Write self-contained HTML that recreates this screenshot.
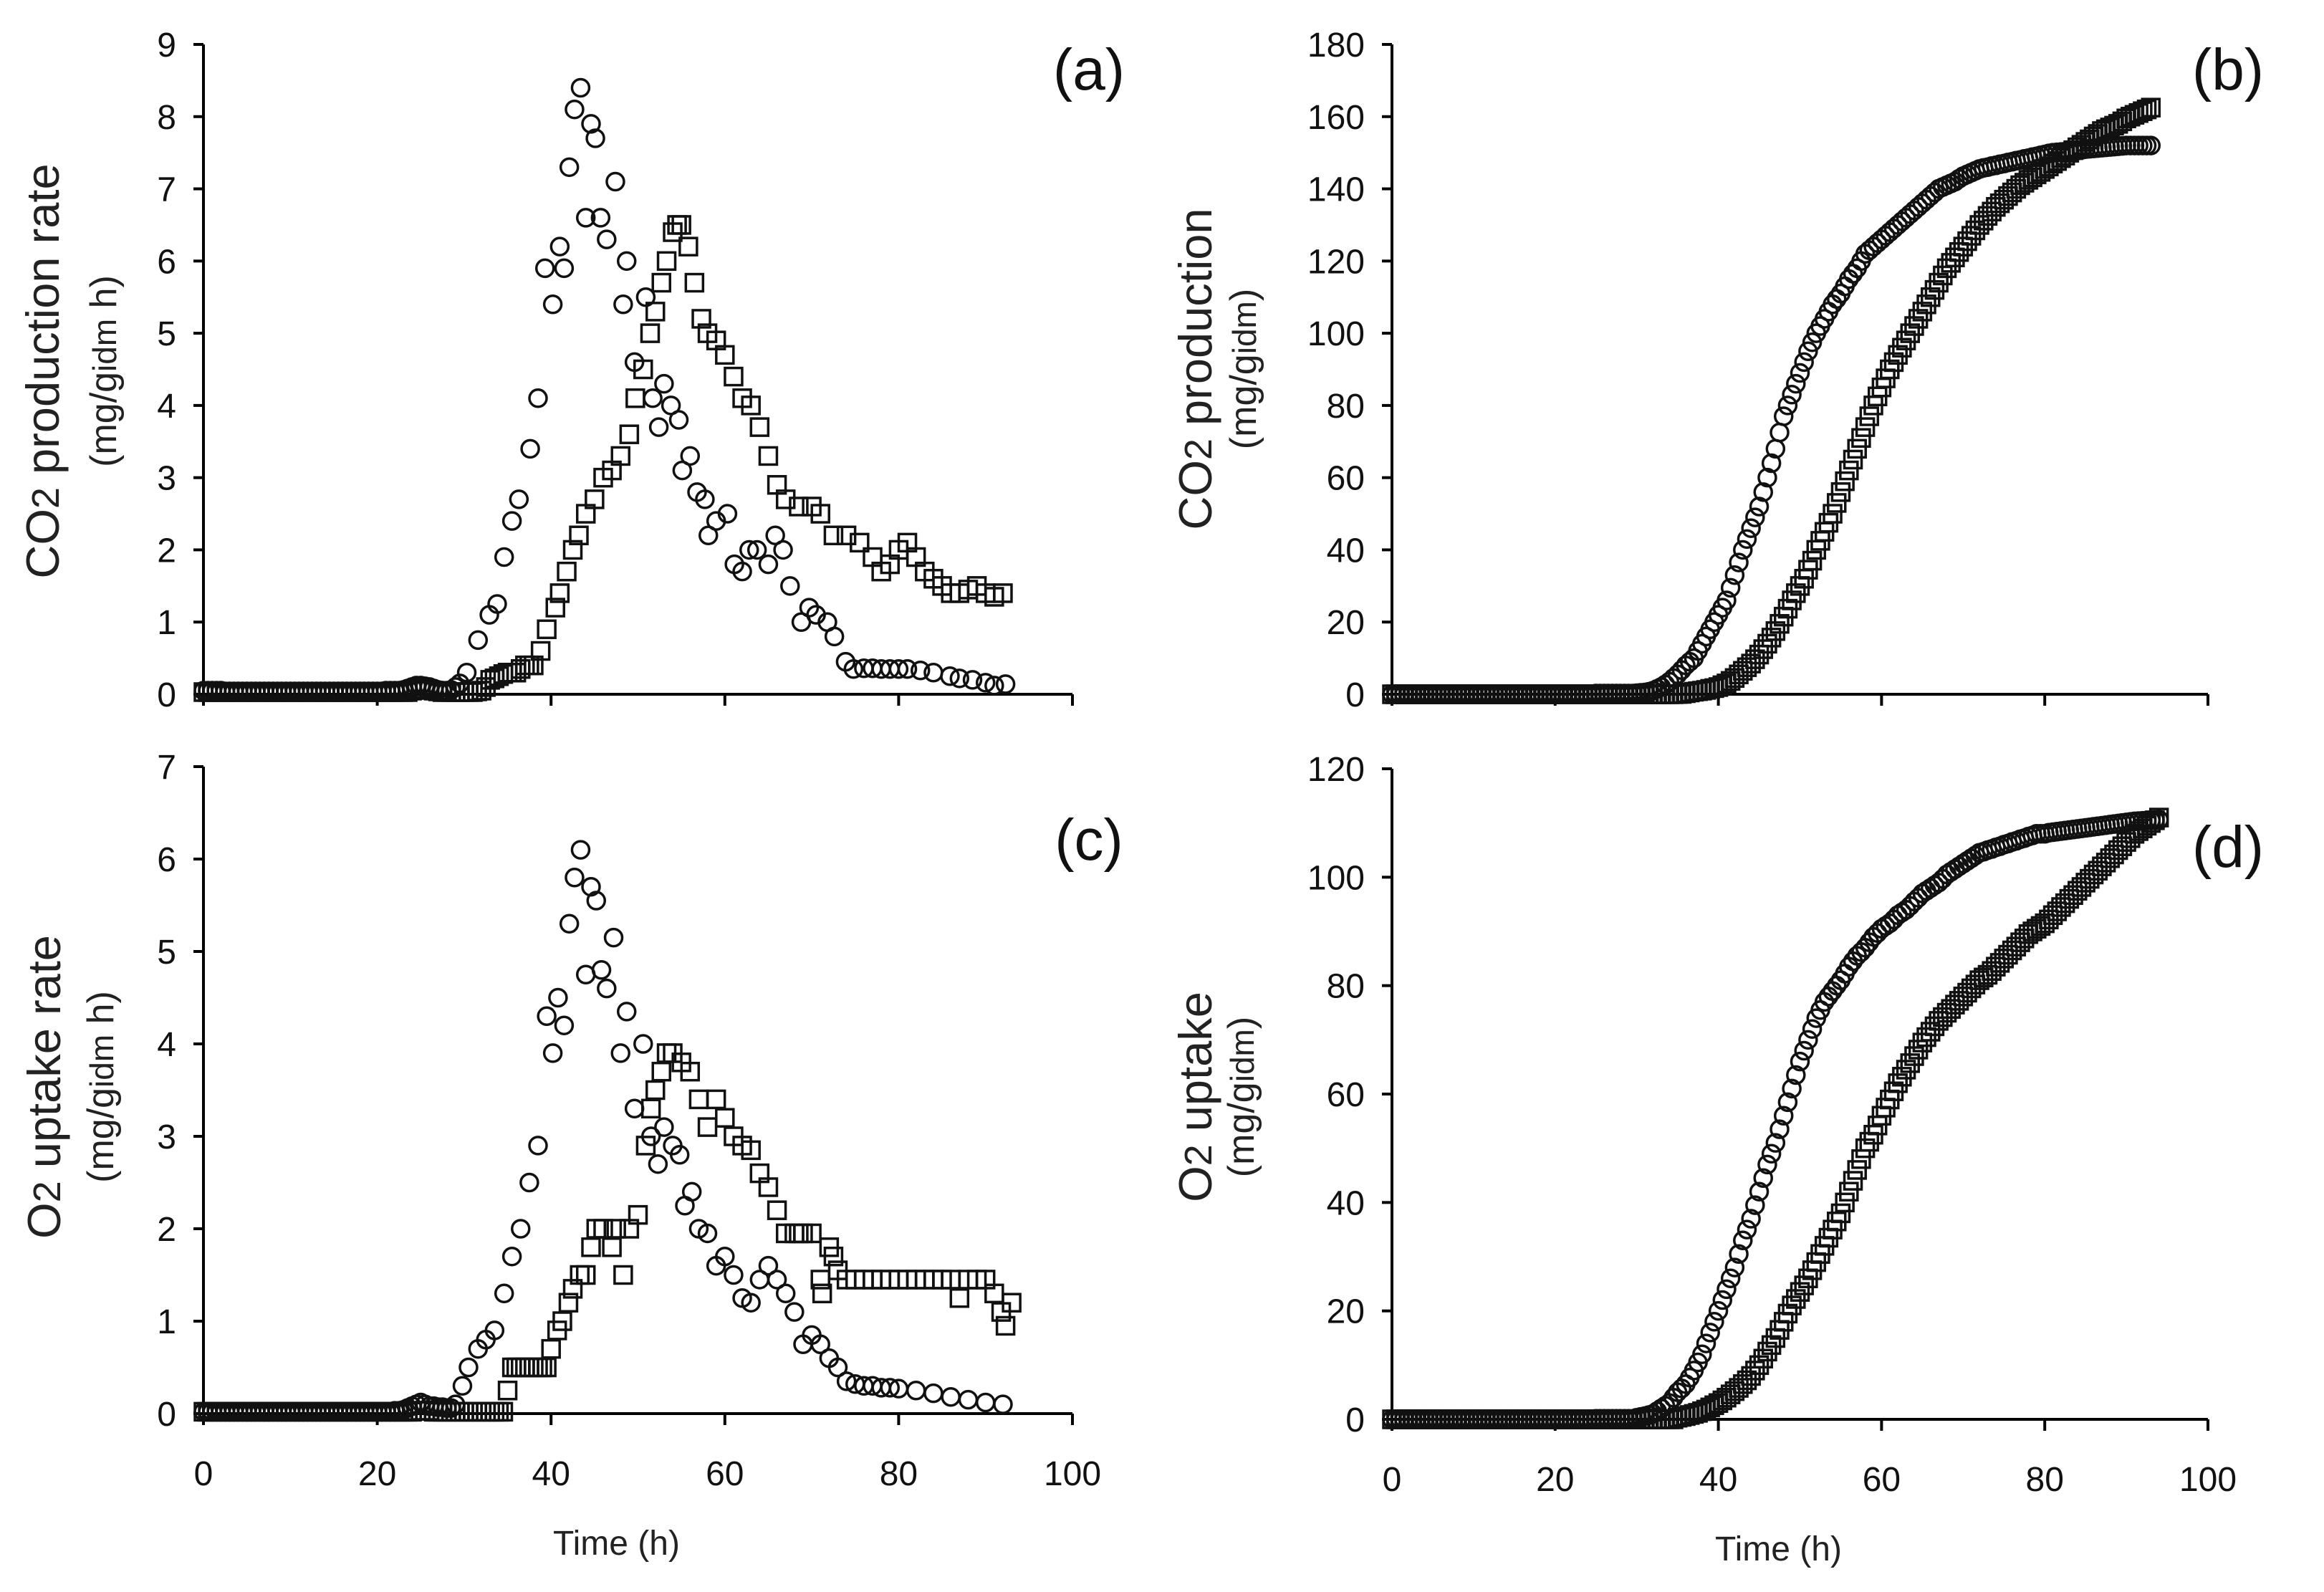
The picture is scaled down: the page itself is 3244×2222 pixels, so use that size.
<!DOCTYPE html>
<html><head><meta charset="utf-8"><style>
html,body{margin:0;padding:0;background:#fff;}
svg{display:block;font-family:"Liberation Sans",sans-serif;}
</style></head><body>
<svg id="fig" width="3244" height="2222" viewBox="0 0 3244 2222" xmlns="http://www.w3.org/2000/svg"></svg>
<script>
// ---- Panel (a): CO2 production rate ----
const aCircT=[0,0.5,1,1.5,2,2.5,3,3.5,4,4.5,5,5.5,6,6.5,7,7.5,8,8.5,9,9.5,10,10.5,11,11.5,12,12.5,13,13.5,14,14.5,15,15.5,16,16.5,17,17.5,18,18.5,19,19.5,20,20.5,21,21.5,22,22.5,23,23.5,24,24.5,25,25.5,26,26.5,27,27.5,28,28.5,29,29.5,30.3,31.6,32.9,33.8,34.6,35.5,36.3,37.6,38.5,39.3,40.2,41,41.5,42.1,42.7,43.4,44,44.6,45.1,45.7,46.4,47.4,48.3,48.7,49.6,50.9,51.7,52.4,53,53.8,54.7,55.1,56,56.8,57.7,58.1,59,60.3,61.1,62,62.8,63.7,65,65.8,66.7,67.5,68.8,69.7,70.5,71.8,72.6,73.9,74.8,76,77,78,79,80,81,82.5,84,85.9,87,88.5,90,91,92.3];
const aCircV=[0.05,0.05,0.05,0.05,0.05,0.04,0.04,0.04,0.04,0.04,0.04,0.04,0.04,0.04,0.04,0.04,0.04,0.04,0.04,0.04,0.04,0.04,0.04,0.04,0.04,0.04,0.04,0.04,0.04,0.04,0.04,0.04,0.04,0.04,0.04,0.04,0.04,0.04,0.04,0.04,0.04,0.04,0.05,0.05,0.05,0.05,0.06,0.08,0.1,0.12,0.12,0.11,0.1,0.08,0.06,0.05,0.05,0.06,0.1,0.15,0.3,0.75,1.1,1.25,1.9,2.4,2.7,3.4,4.1,5.9,5.4,6.2,5.9,7.3,8.1,8.4,6.6,7.9,7.7,6.6,6.3,7.1,5.4,6.0,4.6,5.5,4.1,3.7,4.3,4.0,3.8,3.1,3.3,2.8,2.7,2.2,2.4,2.5,1.8,1.7,2.0,2.0,1.8,2.2,2.0,1.5,1.0,1.2,1.1,1.0,0.8,0.45,0.35,0.36,0.36,0.35,0.35,0.35,0.35,0.33,0.3,0.25,0.22,0.2,0.16,0.12,0.14];
const aSqT=[0,0.5,1,1.5,2,2.5,3,3.5,4,4.5,5,5.5,6,6.5,7,7.5,8,8.5,9,9.5,10,10.5,11,11.5,12,12.5,13,13.5,14,14.5,15,15.5,16,16.5,17,17.5,18,18.5,19,19.5,20,20.5,21,21.5,22,22.5,23,23.5,24,24.5,25,25.5,26,26.5,27,27.5,28,28.5,29,29.5,30,30.5,31,31.5,32,32.5,33,33.5,34,34.5,35,35.5,36,36.5,37,37.5,38,38.8,39.5,40.5,41,41.8,42.5,43.2,44,45,46,47,48,49,49.7,50.6,51.4,52,52.7,53.3,54,54.5,55,55.8,56.5,57.3,58,59,60,61,62,63,64,65,66,67,68.5,70,71,72.5,74,75.5,77,78,79,80,81,82,83,84,85,86,87,88,89,90,91,92];
const aSqV=[0.03,0.03,0.03,0.03,0.03,0.03,0.03,0.03,0.03,0.03,0.03,0.03,0.03,0.03,0.03,0.03,0.03,0.03,0.03,0.03,0.03,0.03,0.03,0.03,0.03,0.03,0.03,0.03,0.03,0.03,0.03,0.03,0.03,0.03,0.03,0.03,0.03,0.03,0.03,0.03,0.03,0.03,0.03,0.03,0.03,0.03,0.03,0.03,0.05,0.06,0.08,0.07,0.06,0.05,0.04,0.03,0.03,0.03,0.03,0.03,0.03,0.03,0.03,0.04,0.05,0.1,0.2,0.22,0.25,0.28,0.3,0.3,0.3,0.35,0.4,0.4,0.4,0.6,0.9,1.2,1.4,1.7,2.0,2.2,2.5,2.7,3.0,3.1,3.3,3.6,4.1,4.5,5.0,5.3,5.7,6.0,6.4,6.5,6.5,6.2,5.7,5.2,5.0,4.9,4.7,4.4,4.1,4.0,3.7,3.3,2.9,2.7,2.6,2.6,2.5,2.2,2.2,2.1,1.9,1.7,1.8,2.0,2.1,1.9,1.7,1.6,1.5,1.4,1.4,1.45,1.5,1.4,1.35,1.4];
// ---- Panel (c): O2 uptake rate ----
const cCircT=[0,0.5,1,1.5,2,2.5,3,3.5,4,4.5,5,5.5,6,6.5,7,7.5,8,8.5,9,9.5,10,10.5,11,11.5,12,12.5,13,13.5,14,14.5,15,15.5,16,16.5,17,17.5,18,18.5,19,19.5,20,20.5,21,21.5,22,22.5,23,23.5,24,24.5,25,25.5,26,26.5,27,27.5,28,28.5,29,29.8,30.5,31.6,32.5,33.5,34.6,35.5,36.5,37.5,38.5,39.5,40.2,40.8,41.5,42.1,42.7,43.4,44,44.6,45.2,45.8,46.4,47.2,48,48.7,49.6,50.6,51.5,52.3,53,54,54.8,55.4,56.2,57,58,59,60,61,62,63,64,65,66,67,68,69,70,71,72,73,74,75,76,77,78,79,80,82,84,86,88,90,92];
const cCircV=[0.02,0.02,0.02,0.02,0.02,0.02,0.02,0.02,0.02,0.02,0.02,0.02,0.02,0.02,0.02,0.02,0.02,0.02,0.02,0.02,0.02,0.02,0.02,0.02,0.02,0.02,0.02,0.02,0.02,0.02,0.02,0.02,0.02,0.02,0.02,0.02,0.02,0.02,0.02,0.02,0.02,0.02,0.02,0.02,0.03,0.03,0.04,0.06,0.08,0.1,0.12,0.1,0.08,0.08,0.07,0.07,0.06,0.06,0.1,0.3,0.5,0.7,0.8,0.9,1.3,1.7,2.0,2.5,2.9,4.3,3.9,4.5,4.2,5.3,5.8,6.1,4.75,5.7,5.55,4.8,4.6,5.15,3.9,4.35,3.3,4.0,3.0,2.7,3.1,2.9,2.8,2.25,2.4,2.0,1.95,1.6,1.7,1.5,1.25,1.2,1.45,1.6,1.45,1.3,1.1,0.75,0.85,0.75,0.6,0.5,0.35,0.32,0.3,0.3,0.28,0.28,0.27,0.25,0.22,0.18,0.15,0.12,0.1];
const cSqT=[0,0.5,1,1.5,2,2.5,3,3.5,4,4.5,5,5.5,6,6.5,7,7.5,8,8.5,9,9.5,10,10.5,11,11.5,12,12.5,13,13.5,14,14.5,15,15.5,16,16.5,17,17.5,18,18.5,19,19.5,20,20.5,21,21.5,22,22.5,23,23.5,24,24.5,25,25.5,26,26.5,27,27.5,28,28.5,29,29.5,30,30.5,31,31.5,32,32.5,33,33.5,34,34.5,35,35.5,36,36.5,37,37.5,38,38.5,39,39.5,40,40.7,41.3,42,42.5,43.3,44,44.6,45.2,46,47,47.5,48.3,49,50,50.9,51.5,52,52.7,53.3,54,55,56,57,58,59,60,61,62,63,64,65,66,67,68,68.5,69,70,71,71.2,72,72.5,73,74,75,76,77,78,79,80,81,82,83,84,85,86,87,88,89,90,91,91.8,92.3,93];
const cSqV=[0.02,0.02,0.02,0.02,0.02,0.02,0.02,0.02,0.02,0.02,0.02,0.02,0.02,0.02,0.02,0.02,0.02,0.02,0.02,0.02,0.02,0.02,0.02,0.02,0.02,0.02,0.02,0.02,0.02,0.02,0.02,0.02,0.02,0.02,0.02,0.02,0.02,0.02,0.02,0.02,0.02,0.02,0.02,0.02,0.02,0.02,0.02,0.02,0.02,0.03,0.03,0.03,0.03,0.02,0.02,0.02,0.02,0.02,0.02,0.02,0.02,0.02,0.02,0.02,0.02,0.02,0.02,0.02,0.02,0.02,0.25,0.5,0.5,0.5,0.5,0.5,0.5,0.5,0.5,0.5,0.7,0.9,1.0,1.2,1.35,1.5,1.5,1.8,2.0,2.0,1.8,2.0,1.5,2.0,2.15,2.9,3.3,3.5,3.7,3.9,3.9,3.8,3.7,3.4,3.1,3.4,3.2,3.0,2.9,2.85,2.6,2.45,2.2,1.95,1.95,1.95,1.95,1.95,1.45,1.3,1.8,1.7,1.55,1.45,1.45,1.45,1.45,1.45,1.45,1.45,1.45,1.45,1.45,1.45,1.45,1.45,1.25,1.45,1.45,1.45,1.3,1.1,0.95,1.2];
// ---- Shared half-hour time base for cumulative panels ----
const halfT=[0,0.5,1,1.5,2,2.5,3,3.5,4,4.5,5,5.5,6,6.5,7,7.5,8,8.5,9,9.5,10,10.5,11,11.5,12,12.5,13,13.5,14,14.5,15,15.5,16,16.5,17,17.5,18,18.5,19,19.5,20,20.5,21,21.5,22,22.5,23,23.5,24,24.5,25,25.5,26,26.5,27,27.5,28,28.5,29,29.5,30,30.5,31,31.5,32,32.5,33,33.5,34,34.5,35,35.5,36,36.5,37,37.5,38,38.5,39,39.5,40,40.5,41,41.5,42,42.5,43,43.5,44,44.5,45,45.5,46,46.5,47,47.5,48,48.5,49,49.5,50,50.5,51,51.5,52,52.5,53,53.5,54,54.5,55,55.5,56,56.5,57,57.5,58,58.5,59,59.5,60,60.5,61,61.5,62,62.5,63,63.5,64,64.5,65,65.5,66,66.5,67,67.5,68,68.5,69,69.5,70,70.5,71,71.5,72,72.5,73,73.5,74,74.5,75,75.5,76,76.5,77,77.5,78,78.5,79,79.5,80,80.5,81,81.5,82,82.5,83,83.5,84,84.5,85,85.5,86,86.5,87,87.5,88,88.5,89,89.5,90,90.5,91,91.5,92,92.5,93,93.5,94];
// ---- Panel (b): CO2 production (cumulative), 0..93 h ----
const bCirc=[0,0,0,0,0,0,0,0,0,0,0,0,0,0,0,0,0,0,0,0,0,0,0,0,0,0,0,0,0,0,0,0,0,0,0,0,0,0,0,0,0,0,0,0,0,0,0,0,0,0,
0.2,0.2,0.2,0.2,0.2,0.2,0.2,0.2,0.2,0.2,
0.3,0.4, 0.5,0.7, 1,1.5, 2,2.7, 3.5,4.5, 5.5,6.7, 8,9, 10,12, 14,16, 18,20,
22,24, 26,29.5, 33,36.5, 40,43, 46,49, 52,56, 60,64, 68,72.5, 77,80, 83,86,
89,92, 95,97.5, 100,102, 104,106, 108,109.5, 111,113, 115,116.5, 118,120, 122,123, 124,125,
126,127, 128,129, 130,131, 132,133, 134,135, 136,137, 138,139, 140,140.5, 141,141.5, 142,142.8,
143.5,144, 144.5,145, 145.5,145.8, 146,146.3, 146.5,146.8, 147,147.3, 147.5,147.8, 148,148.3, 148.5,148.8, 149,149.3,
149.5,149.8, 150,150.1, 150.2,150.3, 150.4,150.5, 150.6,150.8, 151,151.1, 151.2,151.3, 151.4,151.5, 151.6,151.7, 151.8,151.9,
152,152, 152,152, 152,152, 152];
const bSq=[0,0,0,0,0,0,0,0,0,0,0,0,0,0,0,0,0,0,0,0,0,0,0,0,0,0,0,0,0,0,0,0,0,0,0,0,0,0,0,0,0,0,0,0,0,0,0,0,0,0,
0,0,0,0,0,0,0,0,0,0,
0,0, 0,0, 0,0, 0,0, 0,0, 0.05,0.1, 0.3,0.5, 0.7,0.85, 1,1.2, 1.5,1.7,
2,2.5, 3,3.7, 4.5,5.5, 6.5,7.5, 8.5,9.7, 11,12.5, 14,15.7, 17.5,19.5, 21.5,23.7, 26,28,
30,32, 34.5,37, 40,42.5, 45,47.5, 50,53, 56,59, 62,65, 68,71, 74,77, 80,82.5,
85,87.5, 90,92, 94,96, 98,100, 102,104, 106,108, 110,112, 114,116, 118,119.5, 121,122.5,
124,125.5, 127,128.5, 130,131.2, 132.5,133.7, 135,136, 137,138, 139,140, 141,141.7, 142.5,143.2, 144,144.7,
145.5,146.2, 147,147.7, 148.5,149.2, 150,150.7, 151.5,152.2, 153,153.7, 154.5,155.2, 156,156.5, 157,157.5, 158,158.7,
159.5,160, 160.5,161, 161.5,162, 162.5];
// ---- Panel (d): O2 uptake (cumulative), 0..94 h ----
const dCirc=[0,0,0,0,0,0,0,0,0,0,0,0,0,0,0,0,0,0,0,0,0,0,0,0,0,0,0,0,0,0,0,0,0,0,0,0,0,0,0,0,0,0,0,0,0,0,0,0,0,0,
0.1,0.1,0.1,0.1,0.1,0.1,0.1,0.1,0.1,0.1,
0.3,0.45, 0.6,0.8, 1,1.5, 2,2.5, 3,4, 5,5.7, 6.5,7.7, 9,10.5, 12,14, 16,18,
20,22, 24,26, 28,30.5, 33,35, 37,39.5, 42,44.5, 47,49, 51,53.5, 56,58.5, 61,63.5,
66,68, 70,72, 74,75.5, 77,78, 79,80, 81,82.2, 83.5,84.5, 85.5,86.2, 87,88, 89,89.7,
90.5,91, 91.5,92.2, 93,93.5, 94,94.7, 95.5,96.2, 97,97.5, 98,98.5, 99,99.7, 100.5,101, 101.5,102,
102.5,103, 103.5,104, 104.5,104.7, 105,105.2, 105.5,105.7, 106,106.2, 106.5,106.7, 107,107.2, 107.5,107.7, 108,108,
108,108.2, 108.3,108.4, 108.5,108.6, 108.7,108.8, 108.9,109, 109.1,109.2, 109.3,109.4, 109.5,109.6, 109.7,109.8, 109.9,110,
110.1,110.2, 110.3,110.35, 110.4,110.45, 110.5,110.55, 110.6];
const dSq=[0,0,0,0,0,0,0,0,0,0,0,0,0,0,0,0,0,0,0,0,0,0,0,0,0,0,0,0,0,0,0,0,0,0,0,0,0,0,0,0,0,0,0,0,0,0,0,0,0,0,
0,0,0,0,0,0,0,0,0,0,
0,0, 0,0, 0,0, 0,0, 0,0, 0.3,0.45, 0.6,0.8, 1,1.2, 1.5,1.8, 2.2,2.6,
3,3.5, 4,4.6, 5.2,5.8, 6.5,7.2, 8,9, 10,11.2, 12.5,13.7, 15,16.5, 18,19.5, 21,22.2,
23.5,24.7, 26,27.5, 29,30.5, 32,33.5, 35,36.5, 38,40, 42,44, 46,48, 50,51.2, 52.5,54.2,
56,57.5, 59,60.5, 62,63.2, 64.5,65.7, 67,68.2, 69.5,70.5, 71.5,72.5, 73.5,74.2, 75,75.7, 76.5,77.2,
78,78.7, 79.5,80.2, 81,81.5, 82,82.7, 83.5,84.2, 85,85.7, 86.5,87.2, 88,88.7, 89.5,90, 90.5,91,
91.5,92.2, 93,93.7, 94.5,95.2, 96,96.7, 97.5,98.2, 99,99.7, 100.5,101.2, 102,102.7, 103.5,104.2, 105,105.7,
106.5,107.2, 108,108.5, 109,109.5, 110,110.5, 111];
// tick label arrays
const xTicks=[0,20,40,60,80,100];
const aYTicks=[0,1,2,3,4,5,6,7,8,9];
const bYTicks=[0,20,40,60,80,100,120,140,160,180];
const cYTicks=[0,1,2,3,4,5,6,7];
const dYTicks=[0,20,40,60,80,100,120];

const NS="http://www.w3.org/2000/svg";
const svg=document.getElementById('fig');
function mk(tag,attrs,parent){const e=document.createElementNS(NS,tag);for(const k in attrs)e.setAttribute(k,attrs[k]);(parent||svg).appendChild(e);return e;}

function panel(id,P){
  const g=mk('g',{});
  
  
  const sx=v=>P.x0+(v-0)/(100)*(P.x1-P.x0);
  const sy=v=>P.y0-(v)/(P.ymax)*(P.y0-P.y1);
  const ya=mk('line',{x1:P.x0,y1:P.y0+2,x2:P.x0,y2:P.y1,stroke:'#000','stroke-width':4},g);
  
  
  const xa=mk('line',{x1:P.x0-2,y1:P.y0,x2:P.x1,y2:P.y0,stroke:'#000','stroke-width':4},g);
  
  
  P.yt.forEach(t=>{
    const y=sy(t);
    mk('line',{x1:P.x0-14,y1:y,x2:P.x0,y2:y,stroke:'#000','stroke-width':4},g);
    const tx=mk('text',{x:P.x0-38,y:y+17,'text-anchor':'end','font-size':48,fill:'#111'},g);
    tx.textContent=t;
    
    
  });
  xTicks.forEach(t=>{
    const x=sx(t);
    mk('line',{x1:x,y1:P.y0,x2:x,y2:P.y0+16,stroke:'#000','stroke-width':4},g);
    if(P.xlabels){
      const tx=mk('text',{x:x,y:P.y0+100,'text-anchor':'middle','font-size':48,fill:'#111'},g);
      tx.textContent=t;
      
      
    }
  });
  P.series.forEach(s=>{
    const sg=mk('g',{fill:'none',stroke:'#111','stroke-width':3.5},g);
    
    
    const n=Math.min(s.t.length,s.v.length);
    for(let i=0;i<n;i++){
      const x=sx(s.t[i]), y=sy(s.v[i]);
      let m;
      if(s.shape==='circle') m=mk('circle',{cx:x,cy:y,r:12},sg);
      else m=mk('rect',{x:x-12,y:y-12,width:24,height:24},sg);
      
      
    }
  });
  const lab=mk('text',{x:P.labX,y:P.labY,'font-size':82,fill:'#111','text-anchor':'middle'},g);
  lab.textContent='('+id+')';
  
  
  if(P.xlabels){
    const xt=mk('text',{x:(P.x0+P.x1)/2-30,y:P.y0+197,'text-anchor':'middle','font-size':48,fill:'#222'},g);
    xt.textContent='Time (h)';
    
    
  }
  const yt=mk('text',{transform:`translate(${P.ytx1},${P.ytc}) rotate(-90)`,'text-anchor':'middle','font-size':65,fill:'#222'},g);
  
  
  yt.innerHTML=P.line1;
  const yt2=mk('text',{transform:`translate(${P.ytx2},${P.ytc}) rotate(-90)`,'text-anchor':'middle','font-size':52,fill:'#222'},g);
  
  
  yt2.innerHTML=P.line2;
}

panel('a',{x0:284,x1:1497,y0:969,y1:62,ymax:9,yt:aYTicks,xlabels:false,labX:1520,labY:125,
  ytx1:82,ytx2:162,ytc:518,line1:'CO<tspan font-size="54">2</tspan> production rate',line2:'(mg/g<tspan font-size="46">idm</tspan> h)',
  series:[{name:'series-circles-a',shape:'circle',t:aCircT,v:aCircV},{name:'series-squares-a',shape:'square',t:aSqT,v:aSqV}]});
panel('b',{x0:1943,x1:3082,y0:969,y1:62,ymax:180,yt:bYTicks,xlabels:false,labX:3110,labY:125,
  ytx1:1691,ytx2:1753,ytc:515,line1:'CO<tspan font-size="54">2</tspan> production',line2:'(mg/g<tspan font-size="46">idm</tspan>)',
  series:[{name:'series-circles-b',shape:'circle',t:halfT,v:bCirc},{name:'series-squares-b',shape:'square',t:halfT,v:bSq}]});
panel('c',{x0:284,x1:1497,y0:1973,y1:1070,ymax:7,yt:cYTicks,xlabels:true,labX:1520,labY:1200,
  ytx1:84,ytx2:158,ytc:1517,line1:'O<tspan font-size="54">2</tspan> uptake rate',line2:'(mg/g<tspan font-size="46">idm</tspan> h)',
  series:[{name:'series-circles-c',shape:'circle',t:cCircT,v:cCircV},{name:'series-squares-c',shape:'square',t:cSqT,v:cSqV}]});
panel('d',{x0:1943,x1:3082,y0:1981,y1:1073,ymax:120,yt:dYTicks,xlabels:true,labX:3110,labY:1210,
  ytx1:1691,ytx2:1750,ytc:1531,line1:'O<tspan font-size="54">2</tspan> uptake',line2:'(mg/g<tspan font-size="46">idm</tspan>)',
  series:[{name:'series-circles-d',shape:'circle',t:halfT,v:dCirc},{name:'series-squares-d',shape:'square',t:halfT,v:dSq}]});
</script>
</body></html>
